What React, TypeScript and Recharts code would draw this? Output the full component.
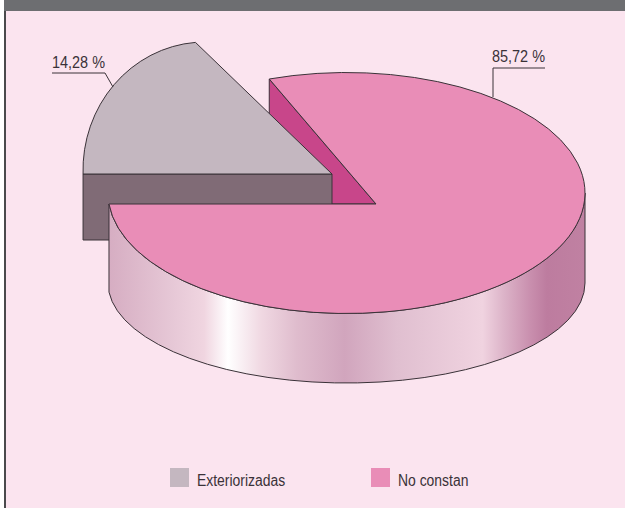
import { PieChart, Pie, Legend } from "recharts";

const categories = ["Exteriorizadas", "No constan"];
const shares = [14.28, 85.72];
const shareLabels = ["14,28 %", "85,72 %"];
const fills = ["#c4b7c0", "#e98db7"];

const rows = categories.map((name, i) => ({ name, value: shares[i], label: shareLabels[i], fill: fills[i] }));

const INK = "#3a3238";
const BG = "#fbe4ef";
const FONT = "'Liberation Sans', sans-serif";

// top faces: an apex plus the ellipse its rim runs on. skew widens the wedge on screen
const bodyFace = { ax: 376, ay: 204, cx: 346.5, cy: 193, rx: 238.5, ry: 120.5, skew: 1.07 };
const pulledFace = { ax: 332, ay: 174, cx: 205, cy: 170, rx: 122, ry: 128, skew: 1.3 };
type Face = typeof bodyFace;

const BODY_FLOOR = { cy: 283, ry: 100 };
const PULLED_DEPTH = 66;

// rim highlights of the cylinder wall
const wallStops: [string, string][] = [
  ["0%", "#d6adc2"],
  ["12.5%", "#e5c6d5"],
  ["20%", "#f0d5e0"],
  ["25%", "#ffffff"],
  ["32%", "#f0d8e2"],
  ["39.5%", "#dfbccd"],
  ["49.5%", "#d1a5bd"],
  ["60.5%", "#e0bfd0"],
  ["78.5%", "#f0d3e0"],
  ["83%", "#dcb3c8"],
  ["88.5%", "#c98fae"],
  ["92%", "#bd7c9f"],
  ["100%", "#c081a2"],
];

// where a ray leaving the apex at a pie angle meets the ellipse
function rimPoint(f: Face, angle: number) {
  const rad = (angle * Math.PI) / 180;
  const px = (f.ax - f.cx) / f.rx;
  const py = (f.ay - f.cy) / f.ry;
  const dx = (f.skew * Math.cos(rad)) / f.rx;
  const dy = -Math.sin(rad) / f.ry;
  const a = dx * dx + dy * dy;
  const b = px * dx + py * dy;
  const c = px * px + py * py - 1;
  const t = (-b + Math.sqrt(b * b - a * c)) / a;
  return { x: f.ax + t * f.skew * Math.cos(rad), y: f.ay - t * Math.sin(rad) };
}

function wedgePath(f: Face, start: number, end: number) {
  const p = rimPoint(f, start);
  const q = rimPoint(f, end);
  const large = start - end > 180 ? 1 : 0;
  return `M${f.ax},${f.ay}L${p.x},${p.y}A${f.rx},${f.ry} 0 ${large} 1 ${q.x},${q.y}Z`;
}

function Slice3D(props: any) {
  const { startAngle, endAngle, fill, name } = props;
  const line = { stroke: INK, strokeWidth: 1, strokeLinejoin: "round" as const };

  if (name === categories[0]) {
    // pulled-out slice, with the cut face it leaves behind in the body
    const notch = rimPoint(bodyFace, endAngle);
    const left = rimPoint(pulledFace, startAngle);
    return (
      <g>
        <path d={`M${notch.x},${notch.y}L${bodyFace.ax},${bodyFace.ay}H${notch.x}Z`} fill="#c8468a" {...line} />
        <rect x={left.x} y={left.y} width={pulledFace.ax - left.x} height={PULLED_DEPTH} fill="#806b76" {...line} />
        <path d={wedgePath(pulledFace, startAngle, endAngle)} fill={fill} {...line} />
      </g>
    );
  }

  const f = bodyFace;
  const west = rimPoint(f, endAngle);
  const eastX = f.cx + f.rx;
  // floor rim is the same width as the top, so start it where the west edge lands on it
  const u = (west.x - f.cx) / f.rx;
  const westFloorY = BODY_FLOOR.cy + BODY_FLOOR.ry * Math.sqrt(Math.max(0, 1 - u * u));
  const wall =
    `M${west.x},${west.y}V${westFloorY}` +
    `A${f.rx},${BODY_FLOOR.ry} 0 0 0 ${eastX},${BODY_FLOOR.cy}V${f.cy}` +
    `A${f.rx},${f.ry} 0 0 1 ${west.x},${west.y}Z`;
  return (
    <g>
      <defs>
        <linearGradient id="wall" x1="0" x2="1" y1="0" y2="0">
          {wallStops.map(([offset, color]) => (
            <stop key={offset} offset={offset} stopColor={color} />
          ))}
        </linearGradient>
      </defs>
      <path d={wall} fill="url(#wall)" {...line} />
      <path d={wedgePath(f, startAngle, endAngle)} fill={fill} {...line} />
    </g>
  );
}

// text position and leader polyline for each share label
const labelSpots: Record<string, { x: number; y: number; leader: string }> = {
  [categories[0]]: { x: 52, y: 68, leader: "52,73 105,73 113,87" },
  [categories[1]]: { x: 492, y: 62, leader: "545,68 493,68 493,97" },
};

function ShareLabel(props: any) {
  const spot = labelSpots[props.name];
  return (
    <g>
      <polyline points={spot.leader} fill="none" stroke={INK} strokeWidth={1} />
      <text x={spot.x} y={spot.y} fill={INK} fontFamily={FONT} fontSize={16} textLength={53} lengthAdjust="spacingAndGlyphs">
        {props.payload.label}
      </text>
    </g>
  );
}

function LegendRow({ payload }: any) {
  const lefts = [170, 371];
  return (
    <div style={{ position: "relative", height: 20 }}>
      {(payload ?? []).map((entry: any, i: number) => (
        <div key={entry.value} style={{ position: "absolute", left: lefts[i], top: 0, display: "flex" }}>
          <span style={{ width: 19, height: 19, background: entry.color, marginRight: 8 }} />
          <span
            style={{
              fontFamily: FONT,
              fontSize: 16,
              color: INK,
              lineHeight: "25px",
              whiteSpace: "nowrap",
              transform: "scaleX(0.87)",
              transformOrigin: "left center",
            }}
          >
            {entry.value}
          </span>
        </div>
      ))}
    </div>
  );
}

export default function App() {
  return (
    <div style={{ position: "absolute", left: 0, top: 0, width: 625, height: 508, background: "#fff", overflow: "hidden" }}>
      <div style={{ position: "absolute", left: 4, top: 0, right: 0, bottom: 0, background: BG, borderLeft: "2px solid #4a4a4c", boxSizing: "border-box" }} />
      <div style={{ position: "absolute", left: 4, top: 0, right: 0, height: 11, background: "#6d6e71" }} />
      <PieChart width={625} height={508} style={{ position: "absolute", left: 0, top: 0 }}>
        <Pie
          data={rows}
          dataKey="value"
          nameKey="name"
          cx={346}
          cy={193}
          outerRadius={120}
          startAngle={180}
          endAngle={-180}
          stroke="none"
          shape={Slice3D}
          label={ShareLabel}
          labelLine={false}
          isAnimationActive={false}
        />
        <Legend
          content={LegendRow}
          wrapperStyle={{ position: "absolute", left: 0, top: 468, width: 625 }}
        />
      </PieChart>
    </div>
  );
}
